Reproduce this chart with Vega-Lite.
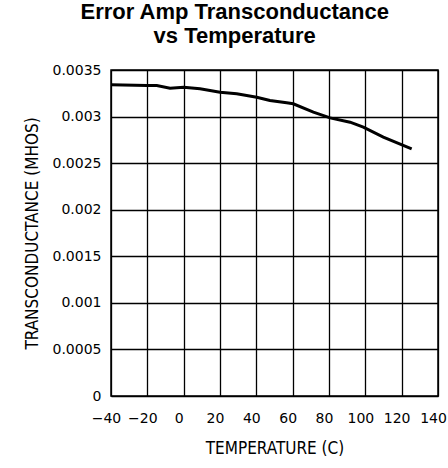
{
  "$schema": "https://vega.github.io/schema/vega-lite/v6.json",
  "width": 327,
  "height": 326,
  "autosize": {"type": "none"},
  "padding": {"left": 111, "right": 10, "top": 70, "bottom": 72},
  "background": "white",
  "title": {
    "text": ["Error Amp Transconductance", "vs Temperature"],
    "font": "Liberation Sans",
    "fontSize": 22,
    "fontWeight": "bold",
    "color": "black",
    "anchor": "middle",
    "frame": "bounds",
    "lineHeight": 24,
    "offset": 15
  },
  "config": {
    "view": {"stroke": "black", "strokeWidth": 1.5},
    "axis": {
      "labelFont": "DejaVu Sans",
      "labelFontSize": 14,
      "labelColor": "black",
      "labelOverlap": false,
      "labelFlush": false,
      "titleFont": "DejaVu Sans Condensed",
      "titleFontSize": 17,
      "titleFontWeight": "normal",
      "titleColor": "black",
      "grid": true,
      "gridColor": "black",
      "gridWidth": 1.3,
      "gridOpacity": 1,
      "ticks": false,
      "domain": false
    }
  },
  "data": {
    "values": [
      {"t": -40.5, "g": 0.003341},
      {"t": -20.2, "g": 0.003334},
      {"t": -14.8, "g": 0.003334},
      {"t": -7.5, "g": 0.003305},
      {"t": 0, "g": 0.003316},
      {"t": 9, "g": 0.003298},
      {"t": 20, "g": 0.003262},
      {"t": 29.2, "g": 0.003244},
      {"t": 40.2, "g": 0.003208},
      {"t": 47.5, "g": 0.003173},
      {"t": 56.7, "g": 0.003148},
      {"t": 60.3, "g": 0.003137},
      {"t": 71.4, "g": 0.003047},
      {"t": 80.6, "g": 0.002986},
      {"t": 91.6, "g": 0.00294},
      {"t": 98.9, "g": 0.002886},
      {"t": 109.9, "g": 0.002779},
      {"t": 125.5, "g": 0.002654}
    ]
  },
  "mark": {"type": "line", "color": "black", "strokeWidth": 3, "clip": true},
  "encoding": {
    "x": {
      "field": "t",
      "type": "quantitative",
      "scale": {"domain": [-40, 140], "nice": false, "zero": false},
      "axis": {
        "title": "TEMPERATURE (C)",
        "values": [-40, -20, 0, 20, 40, 60, 80, 100, 120, 140],
        "labelPadding": 15,
        "labelOffset": -5,
        "titlePadding": 15
      }
    },
    "y": {
      "field": "g",
      "type": "quantitative",
      "scale": {"domain": [0, 0.0035], "nice": false},
      "axis": {
        "title": "TRANSCONDUCTANCE (MHOS)",
        "values": [0, 0.0005, 0.001, 0.0015, 0.002, 0.0025, 0.003, 0.0035],
        "format": "~g",
        "labelPadding": 10,
        "titlePadding": 11
      }
    }
  }
}
